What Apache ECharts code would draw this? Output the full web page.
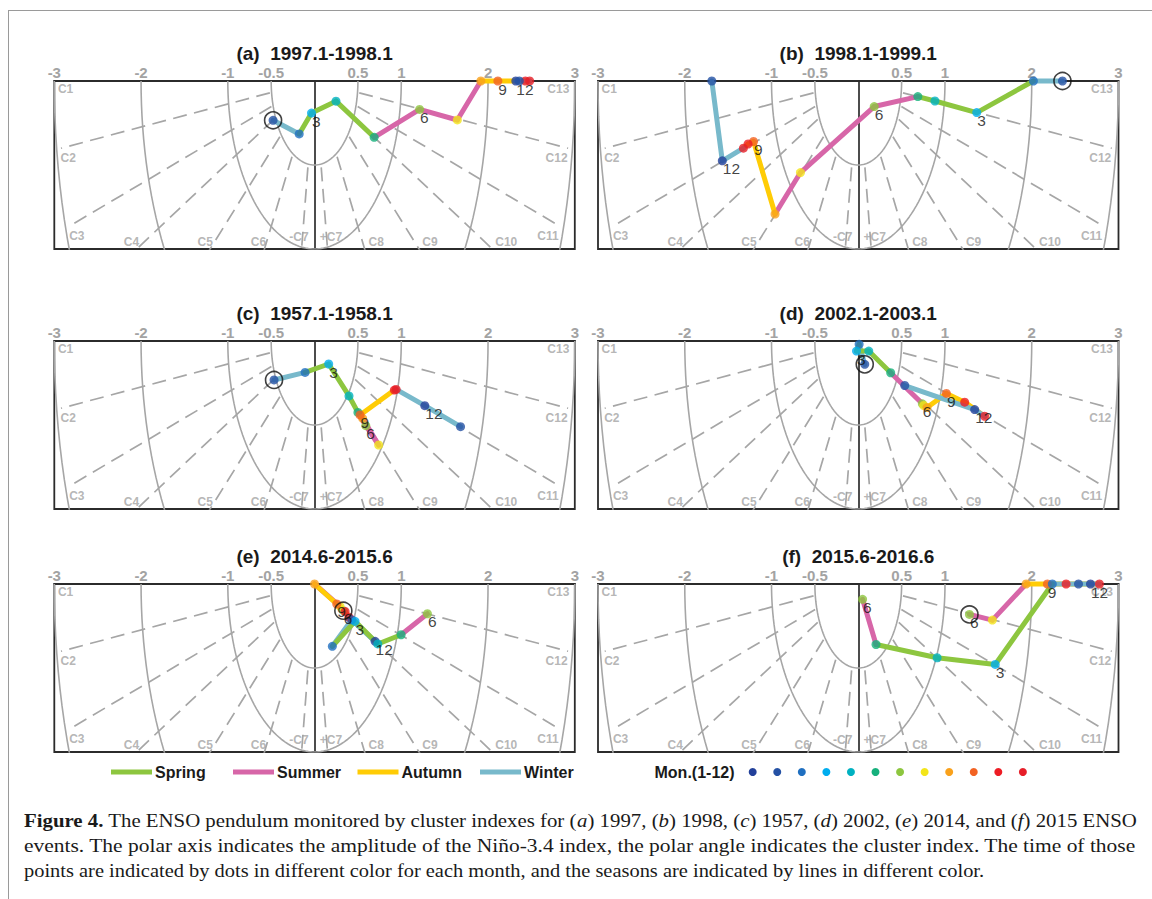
<!DOCTYPE html>
<html>
<head>
<meta charset="utf-8">
<script src="https://cdn.jsdelivr.net/npm/echarts@6/dist/echarts.min.js"></script>
<style>
  html, body { margin: 0; padding: 0; background: #fff; }
  #wrap { position: relative; width: 1152px; height: 899px; overflow: hidden; }
  #frame { position: absolute; left: 8px; top: 10px; right: -20px; bottom: -20px; border-left: 1px solid #9a9a9a; border-top: 1px solid #9a9a9a; }
  #chart { position: absolute; left: 0; top: 0; width: 1152px; height: 899px; }
</style>
</head>
<body>
<div id="wrap">
  <div id="frame"></div>
  <div id="chart"></div>
</div>
<script>
// panel data: x = projected Nino-3.4 amplitude, d = depth below the top edge (same unit)
const panelTitles = ['(a)  1997.1-1998.1', '(b)  1998.1-1999.1', '(c)  1957.1-1958.1',
  '(d)  2002.1-2003.1', '(e)  2014.6-2015.6', '(f)  2015.6-2016.6'];
const startMonths = [1, 1, 1, 1, 6, 6];

const xA = [-0.478, -0.177, -0.035, 0.247, 0.687, 1.211, 1.646, 1.917, 2.113, 2.43, 2.48, 2.32, 2.36];
const dA = [0.234, 0.315, 0.191, 0.120, 0.335, 0.169, 0.232, 0, 0, 0, 0, 0, 0];
const xB = [2.354, 2.019, 1.366, 0.884, 0.687, 0.184, -0.666, -0.959, -1.207, -1.27, -1.324, -1.567, -1.688];
const dB = [0, 0, 0.188, 0.119, 0.093, 0.152, 0.545, 0.792, 0.360, 0.375, 0.40, 0.475, 0];
const xC = [-0.467, -0.109, 0.163, 0.397, 0.50, 0.591, 0.739, 0.554, 0.525, 0.920, 0.941, 1.271, 1.683];
const dC = [0.232, 0.187, 0.137, 0.327, 0.425, 0.504, 0.619, 0.460, 0.440, 0.292, 0.288, 0.385, 0.510];
const xD = [0.075, 0.01, -0.02, 0.121, 0.374, 0.739, 0.755, 0.793, 1.016, 1.227, 1.457, 1.342, 0.536];
const dD = [0.139, 0.02, 0.06, 0.06, 0.189, 0.374, 0.384, 0.396, 0.312, 0.364, 0.448, 0.408, 0.265];
const xE = [0.332, 0.294, 0.0, 0.256, 0.352, 0.398, 0.698, 0.429, 0.205, 0.467, 0.729, 0.998, 1.301];
const dE = [0.159, 0.133, 0.0, 0.119, 0.163, 0.198, 0.341, 0.213, 0.371, 0.222, 0.357, 0.302, 0.177];
const xF = [1.282, 1.546, 1.935, 2.18, 2.396, 2.78, 2.677, 2.539, 2.237, 1.579, 0.909, 0.205, 0.05];
const dF = [0.181, 0.215, 0, 0, 0, 0, 0, 0, 0, 0.479, 0.439, 0.360, 0.091];

const panelX = [xA, xB, xC, xD, xE, xF];
const panelD = [dA, dB, dC, dD, dE, dF];

const xTicks = [-3, -2, -1, -0.5, 0.5, 1, 2, 3];
const arcRadii = [0.5, 1, 2, 3];
const boundaryAngles = [7.8, 17, 26, 39.7, 60, 81.5, 98.5, 120, 140.3, 154, 163, 172.2];
const clusterNames = ['C1', 'C2', 'C3', 'C4', 'C5', 'C6', '-C7', '+C7', 'C8', 'C9', 'C10', 'C11', 'C12', 'C13'];
const clusterLabelPos = [[-2.87, 0.05], [-2.84, 0.457], [-2.74, 0.92], [-2.11, 0.956], [-1.26, 0.956],
  [-0.646, 0.956], [-0.18, 0.93], [0.19, 0.93], [0.71, 0.956], [1.33, 0.956], [2.21, 0.956],
  [2.69, 0.92], [2.79, 0.457], [2.81, 0.05]];

const monColors = ['#22409a', '#2451a4', '#1f6fc0', '#00adef', '#00b1c1', '#16b07c',
  '#8dc63f', '#f3e51a', '#f9a11b', '#f26222', '#ed1c24', '#e61e28'];
const seasonNames = ['Spring', 'Summer', 'Autumn', 'Winter'];
const seasonColors = ['#8dc63f', '#d766a8', '#ffcc05', '#78b9cb'];
const labelMonths = [3, 6, 9, 12];

const gridPos = [[54.3, 81], [598, 81], [54.3, 341], [598, 341], [54.3, 584], [598, 584]];
const gridW = 520.5, gridH = 168;
const rayStart = 0.52, rayEnd = 2.95;
const sansFont = '"Liberation Sans", Arial, Helvetica, sans-serif';
const serifFont = '"Liberation Serif", "DejaVu Serif", serif';

const monthOf = (p, i) => ((startMonths[p] - 1 + i) % 12) + 1;
const seasonOf = m => Math.floor(((m + 9) % 12) / 3);

const myChart = echarts.init(document.getElementById('chart'), null, { renderer: 'svg' });

const grids = [], xAxes = [], yAxes = [], series = [], graphics = [];

panelX.forEach((xs, p) => {
  const ds = panelD[p];
  const ax = { xAxisIndex: p, yAxisIndex: p };
  grids.push({
    left: gridPos[p][0], top: gridPos[p][1], width: gridW, height: gridH,
    show: true, borderColor: '#2b2b2b', borderWidth: 1.8
  });
  xAxes.push({
    gridIndex: p, type: 'value', min: -3, max: 3, interval: 0.5, position: 'top',
    axisLine: { show: true, onZero: false, lineStyle: { color: '#2b2b2b', width: 1.8 } },
    axisTick: { show: false }, splitLine: { show: false },
    axisLabel: {
      show: true, margin: 1, showMinLabel: true, showMaxLabel: true,
      color: '#a3a3a3', fontWeight: 'bold', fontSize: 15, fontFamily: sansFont,
      formatter: v => (xTicks.indexOf(v) >= 0 ? String(v) : '')
    }
  });
  yAxes.push({
    gridIndex: p, type: 'value', min: 0, max: 1, inverse: true,
    axisLine: { show: true, onZero: true, lineStyle: { color: '#111', width: 1.5 } },
    axisTick: { show: false }, axisLabel: { show: false }, splitLine: { show: false }
  });

  // amplitude arcs
  arcRadii.forEach(r => {
    const pts = [];
    for (let k = 0; k <= 180; k += 2) {
      const t = k * Math.PI / 180;
      pts.push([r * Math.cos(t), r * Math.sin(t)]);
    }
    series.push(Object.assign({
      type: 'line', data: pts, showSymbol: false, silent: true, z: 1,
      lineStyle: { color: '#a6a6a6', width: 1.6 }
    }, ax));
  });

  // cluster boundaries
  boundaryAngles.forEach(a => {
    const t = a * Math.PI / 180;
    series.push(Object.assign({
      type: 'line', showSymbol: false, silent: true, z: 1,
      data: [[rayStart * Math.cos(t), rayStart * Math.sin(t)], [rayEnd * Math.cos(t), rayEnd * Math.sin(t)]],
      lineStyle: { color: '#a6a6a6', width: 1.7, type: [14, 7.5] }
    }, ax));
  });

  // cluster names
  series.push(Object.assign({
    type: 'scatter', silent: true, symbolSize: 1, z: 1,
    itemStyle: { color: 'rgba(0,0,0,0)' },
    data: clusterLabelPos.map((q, i) => ({ value: q, name: clusterNames[i] })),
    label: {
      show: true, position: 'inside', formatter: '{b}', color: '#a3a3a3',
      fontWeight: 'bold', fontSize: 12, fontFamily: sansFont
    }
  }, ax));

  // season coloured path
  for (let i = 0; i < xs.length - 1; i++) {
    const s = seasonOf(monthOf(p, i + 1));
    series.push(Object.assign({
      type: 'line', name: seasonNames[s], showSymbol: false, clip: false, z: 3,
      data: [[xs[i], ds[i]], [xs[i + 1], ds[i + 1]]],
      lineStyle: { color: seasonColors[s], width: 5, cap: 'round', join: 'round' }
    }, ax));
  }

  // monthly dots
  series.push(Object.assign({
    type: 'scatter', symbolSize: 9, clip: false, z: 4,
    data: xs.map((x, i) => {
      const m = monthOf(p, i);
      return {
        value: [x, ds[i]], name: String(m),
        itemStyle: { color: monColors[m % 12] },
        label: { show: labelMonths.indexOf(m) >= 0 }
      };
    }),
    label: {
      formatter: '{b}', position: [5, 12.5], align: 'left', verticalAlign: 'middle',
      color: '#111', fontSize: 15.5, fontFamily: sansFont
    }
  }, ax));

  // start point ring
  series.push(Object.assign({
    type: 'scatter', symbolSize: 17, clip: false, z: 5, silent: true,
    data: [[xs[0], ds[0]]],
    itemStyle: { color: 'rgba(0,0,0,0)', borderColor: '#111', borderWidth: 1.6 }
  }, ax));

  graphics.push({
    type: 'text', x: gridPos[p][0] + gridW / 2, y: gridPos[p][1] - 28,
    style: {
      text: panelTitles[p], align: 'center', verticalAlign: 'middle',
      fontSize: 19, fontWeight: 'bold', fontFamily: sansFont, fill: '#1a1a1a'
    }
  });
});

// legend: seasons
const legendLeft = [111, 233, 357.5, 480];
const legendY = 772;
seasonNames.forEach((n, i) => {
  graphics.push({
    type: 'line', shape: { x1: legendLeft[i], y1: legendY, x2: legendLeft[i] + 41, y2: legendY },
    style: { stroke: seasonColors[i], lineWidth: 5 }
  });
  graphics.push({
    type: 'text', x: legendLeft[i] + 44, y: legendY,
    style: { text: n, align: 'left', verticalAlign: 'middle', fontSize: 16, fontWeight: 'bold', fontFamily: sansFont, fill: '#1a1a1a' }
  });
});
// legend: months
graphics.push({
  type: 'text', x: 654.5, y: legendY,
  style: { text: 'Mon.(1-12)', align: 'left', verticalAlign: 'middle', fontSize: 16, fontWeight: 'bold', fontFamily: sansFont, fill: '#1a1a1a' }
});
monColors.forEach((c, k) => {
  graphics.push({ type: 'circle', shape: { cx: 752.7 + k * 24.56, cy: legendY, r: 4 }, style: { fill: c } });
});

// caption (lines 1-2 justified to full width in the reference)
const captionLines = [
  '{b|Figure 4.} The ENSO pendulum monitored by cluster indexes for ({i|a}) 1997, ({i|b}) 1998, ({i|c}) 1957, ({i|d}) 2002, ({i|e}) 2014, and ({i|f}) 2015 ENSO',
  'events. The polar axis indicates the amplitude of the Niño-3.4 index, the polar angle indicates the cluster index. The time of those',
  'points are indicated by dots in different color for each month, and the seasons are indicated by lines in different color.'
];
const captionY = [820, 845.5, 870];
const captionWidth = [1113, 1113, 961];
const captionSize = 19;
const measureCtx = document.createElement('canvas').getContext('2d');
measureCtx.font = captionSize + 'px ' + serifFont;
captionLines.forEach((t, i) => {
  const plain = t.replace(/\{[bi]\|([^}]*)\}/g, '$1');
  const w = measureCtx.measureText(plain).width + (i === 0 ? 4 : 0);
  const sx = w > 0 ? captionWidth[i] / w : 1;
  graphics.push({
    type: 'text', x: 24, y: captionY[i], scaleX: sx, scaleY: 1,
    style: {
      text: t, align: 'left', verticalAlign: 'middle', fontSize: captionSize, fontFamily: serifFont, fill: '#1a1a1a',
      rich: {
        b: { fontSize: captionSize, fontFamily: serifFont, fontWeight: 'bold', fill: '#1a1a1a' },
        i: { fontSize: captionSize, fontFamily: serifFont, fontStyle: 'italic', fill: '#1a1a1a' }
      }
    }
  });
});

myChart.setOption({
  animation: false,
  backgroundColor: 'transparent',
  grid: grids,
  xAxis: xAxes,
  yAxis: yAxes,
  series: series,
  graphic: graphics
});

window.addEventListener('resize', () => myChart.resize());
</script>
</body>
</html>
